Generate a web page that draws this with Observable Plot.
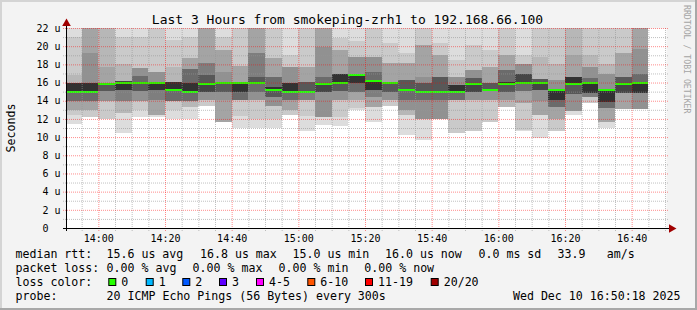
<!DOCTYPE html>
<html><head><meta charset="utf-8">
<script src="https://cdn.jsdelivr.net/npm/d3@7"></script>
<script src="https://cdn.jsdelivr.net/npm/@observablehq/plot@0.6"></script>
<style>
html,body{margin:0;padding:0;background:#f3f3f3;}
</style></head><body><div id="chart"></div>
<script>
// ---- data ----
const day = "2025-12-10";
const windowStart = "13:50:18", windowEnd = "16:50:18";
const binStarts = ["13:50","13:55","14:00","14:05","14:10","14:15","14:20","14:25","14:30","14:35","14:40","14:45","14:50","14:55",
  "15:00","15:05","15:10","15:15","15:20","15:25","15:30","15:35","15:40","15:45","15:50","15:55",
  "16:00","16:05","16:10","16:15","16:20","16:25","16:30","16:35","16:40"];
const medians = [15.0,15.0,15.8,16.0,16.0,16.0,15.2,15.0,15.8,16.0,16.0,16.0,15.2,15.0,15.0,15.8,16.0,16.8,16.2,16.0,
  15.2,15.0,15.0,15.0,15.8,15.2,15.8,16.0,16.0,15.2,15.8,16.0,15.2,15.8,16.0];
// 20 sorted ping round-trip times (us) per 5-minute step
const pings = [
 [11.4,12.4,13.0,13.0,14.0,14.0,14.0,15.0,15.0,15.0,16.0,16.0,16.0,16.0,16.0,16.0,16.0,16.8,21.0,23],
 [12.2,12.2,13.0,13.0,14.0,14.0,14.0,15.0,15.0,15.0,16.0,16.0,16.0,16.0,16.0,19.3,23,23,23,23],
 [12.0,12.0,14.0,14.0,14.0,15.1,15.1,15.1,15.8,15.8,16.0,16.0,16.0,16.0,16.0,16.0,17.7,23,23,23],
 [10.5,12.7,12.7,14.0,14.0,14.0,15.2,15.2,15.2,15.2,16.1,16.2,16.2,16.2,16.2,16.2,16.2,18.0,21.0,23],
 [12.2,13.0,14.0,14.0,14.0,15.1,15.1,15.1,16.0,16.0,16.0,16.0,16.0,16.7,16.7,17.6,17.6,17.6,21.0,23],
 [12.2,12.4,12.4,12.4,14.1,14.1,15.2,15.2,15.2,15.2,16.0,16.0,16.0,16.0,16.0,17.2,17.2,17.2,23,23],
 [12.0,13.0,14.0,14.0,14.0,14.0,14.0,15.2,15.2,15.2,16.1,16.1,16.1,16.1,16.1,16.1,16.1,17.7,20.7,23],
 [12.0,13.3,13.3,14.0,14.0,14.0,14.0,15.0,15.0,15.0,16.0,16.0,16.0,17.5,17.5,17.5,18.7,18.7,21.0,23],
 [13.4,13.4,14.1,14.1,14.1,15.0,15.0,15.0,15.0,15.8,15.9,15.9,16.8,16.8,18.1,18.1,23,23,23,23],
 [11.7,11.7,11.7,11.7,14.1,15.0,15.0,15.0,16.0,16.0,16.0,16.0,16.0,16.0,16.0,17.2,19.6,19.6,21.0,23],
 [11.0,12.3,14.1,14.1,14.1,14.1,14.1,15.0,15.0,15.0,16.0,16.0,16.0,16.0,16.0,16.0,17.8,17.8,23,23],
 [11.0,12.0,14.1,14.1,14.1,15.0,15.0,16.0,16.0,16.0,16.0,16.0,16.65,16.65,19.2,19.2,23,23,23,23],
 [11.0,12.0,13.4,13.4,13.4,14.45,14.45,14.45,15.2,15.2,15.5,15.5,15.5,16.65,16.65,16.65,18.7,18.7,23,23],
 [12.4,12.4,13.0,13.0,14.1,14.1,14.1,15.0,15.0,15.0,16.0,16.0,16.0,16.0,16.0,17.75,17.75,17.75,19.0,23],
 [10.7,12.3,14.1,14.1,14.1,14.1,15.0,15.0,15.0,15.0,15.0,15.0,16.1,16.1,16.1,16.1,17.75,17.75,23,23],
 [11.35,12.25,12.25,12.25,12.25,15.0,15.0,15.0,15.0,15.8,15.9,15.9,15.9,16.65,16.65,19.95,23,23,23,23],
 [11.2,12.2,14.1,14.1,14.1,15.1,15.1,15.1,16.0,16.0,16.9,16.9,16.9,16.9,16.9,16.9,19.6,19.6,20.9,23],
 [13.0,13.2,14.1,14.1,15.0,15.0,15.0,15.9,15.9,15.9,16.8,16.8,16.8,16.8,16.8,18.85,18.85,18.85,20.6,23],
 [11.7,13.35,13.35,13.35,14.45,14.45,15.2,15.2,15.2,15.2,16.2,16.2,16.2,17.2,17.2,18.85,18.85,18.85,23,23],
 [13.4,13.4,14.1,14.1,14.1,15.0,15.0,15.0,16.0,16.0,16.0,16.0,16.0,16.0,16.0,16.0,18.1,18.1,20.3,23],
 [10.2,12.4,12.4,13.0,13.0,14.1,14.1,15.2,15.2,15.2,15.2,15.2,16.3,16.3,16.3,16.3,18.1,18.1,19.2,23],
 [9.7,12.0,12.0,12.0,12.0,14.1,14.1,15.0,15.0,15.0,15.0,15.0,15.9,15.9,15.9,16.65,20.1,20.1,23,23],
 [12.0,12.0,12.0,12.0,12.0,14.1,14.1,15.0,15.0,15.0,15.0,15.0,16.65,16.65,16.65,16.65,19.0,19.0,20.3,23],
 [10.5,10.5,14.1,14.1,14.1,14.1,14.1,15.0,15.0,15.0,15.7,15.7,15.7,15.7,15.7,16.65,16.65,16.65,18.5,23],
 [10.7,10.7,14.1,14.1,14.1,15.0,15.0,15.0,15.0,15.8,15.8,15.8,16.5,16.5,16.5,17.4,17.4,17.4,20.1,23],
 [11.7,11.7,14.1,14.1,14.1,15.2,15.2,15.2,15.2,15.2,15.2,15.2,15.9,15.9,15.9,15.9,17.75,17.75,19.6,23],
 [13.35,13.35,13.35,14.1,14.1,15.0,15.0,15.0,15.8,15.8,16.1,16.1,16.1,17.4,17.4,17.4,19.0,19.0,23,23],
 [10.7,10.8,13.8,13.8,15.1,15.1,15.1,16.0,16.0,16.0,16.0,16.9,16.9,16.9,16.9,18.0,18.0,18.0,19.0,23],
 [9.9,12.4,12.4,12.4,14.0,15.2,15.2,15.2,15.2,16.0,16.0,16.0,16.4,16.4,16.4,16.4,16.4,18.8,23,23],
 [10.7,10.7,12.0,12.0,13.35,13.35,13.35,14.1,14.1,14.1,15.2,15.2,15.2,15.2,15.2,16.3,16.3,18.0,23,23],
 [12.4,12.9,12.9,12.9,12.9,14.7,14.7,14.7,15.8,15.8,16.6,16.6,16.6,16.6,16.6,16.6,19.0,23,23,23],
 [13.7,13.7,14.4,14.4,14.4,14.4,14.9,14.9,14.9,14.9,16.0,16.0,16.0,16.5,16.5,17.7,17.7,19.0,23,23],
 [11.0,11.7,11.7,11.7,13.2,13.2,13.2,13.9,13.9,13.9,15.2,15.2,15.2,15.2,15.2,16.9,16.9,18.0,23,23],
 [13.1,13.1,13.1,13.1,14.9,14.9,14.9,14.9,14.9,15.8,15.8,15.8,16.6,16.6,16.6,16.6,19.3,19.3,23,23],
 [13.1,13.1,13.1,13.1,13.1,14.9,14.9,14.9,14.9,14.9,16.0,16.0,16.0,16.9,16.9,19.7,23,23,23,23]
];
const yTicks = [0,2,4,6,8,10,12,14,16,18,20,22];
const yTickLabels = ["0\u00a0\u00a0","2\u00a0u","4\u00a0u","6\u00a0u","8\u00a0u","10\u00a0u","12\u00a0u","14\u00a0u","16\u00a0u","18\u00a0u","20\u00a0u","22\u00a0u"];
const xTickLabels = ["14:00","14:20","14:40","15:00","15:20","15:40","16:00","16:20","16:40"];
const title = "Last 3 Hours from smokeping-zrh1 to 192.168.66.100";
const legendRows = [
  [["median rtt:",15.5],["15.6 us avg",106.5],["16.8 us max",200],["15.0 us min",292.5],["16.0 us now",385],["0.0 ms sd",478.5],["33.9",557.5],["am/s",606.8]],
  [["packet loss:",15.5],["0.00 % avg",106.6],["0.00 % max",192.6],["0.00 % min",278.6],["0.00 % now",364.3]],
  [["loss color:",15.5]],
  [["probe:",15.5],["20 ICMP Echo Pings (56 Bytes) every 300s",106.6]]
];
const lossLabels = ["0","1","2","3","4-5","6-10","11-19","20/20"];
const lossColors = ["#26ff00","#00b8ff","#0059ff","#5e00ff","#ff00ff","#ff5500","#ff0000","#a00000"];
const lossBoxX = [108.3,145.7,182.3,219,256,307.3,365,430.7];
const stamp = "Wed Dec 10 16:50:18 2025";
const smokeGrays = ["#dddddd","#cacaca","#b7b7b7","#a4a4a4","#919191","#7e7e7e","#6b6b6b","#585858","#454545","#323232"];

// ---- build ----
const T = s => new Date(`${day}T${s.length === 5 ? s + ":00" : s}Z`);
const x0 = T(windowStart), xEnd = T(windowEnd);
const bins = binStarts.map(T);
const step = 5 * 60 * 1000;
const smoke = [];
for (let L = 1; L <= 10; L++) {
  bins.forEach((t, i) => {
    const p = pings[i];
    if (p[20 - L] > p[L - 1]) smoke.push({t0: t, t1: new Date(+t + step), lo: p[L - 1], hi: p[20 - L], fill: smokeGrays[L - 1]});
  });
}
const med = bins.map((t, i) => ({t0: t, t1: new Date(+t + step), m: medians[i]}));
const majorX = xTickLabels.map(T);
const allX = d3.utcMinute.every(5).range(new Date(+x0 + 1), xEnd);
const minorX = allX.filter(d => !majorX.some(m => +m === +d));
const minorY = d3.range(1, 22, 2);
const mono = "DejaVu Sans Mono";
const minorGrid = {stroke: "rgb(150,150,150)", strokeOpacity: 0.6, strokeDasharray: "1,1"};
const majorGrid = {stroke: "rgb(255,0,0)", strokeOpacity: 0.45, strokeDasharray: "1,1"};

const chart = Plot.plot({
  width: 697, height: 310,
  marginLeft: 66, marginRight: 31, marginTop: 28, marginBottom: 82,
  x: {type: "utc", domain: [x0, xEnd], label: null},
  y: {domain: [0, 22], label: null},
  color: {type: "identity"},
  style: {background: "#f3f3f3", fontFamily: mono, fontSize: "10px", color: "black", overflow: "visible"},
  marks: [
    Plot.frame({fill: "white", stroke: null}),
    Plot.rect(smoke, {x1: "t0", x2: "t1", y1: "lo", y2: "hi", fill: "fill", clip: true, shapeRendering: "crispEdges"}),
    Plot.rect(med, {x1: "t0", x2: "t1", y1: d => d.m - 0.11, y2: d => d.m + 0.11, fill: lossColors[0], clip: true, shapeRendering: "crispEdges"}),
    Plot.ruleY(minorY, {...minorGrid, insetLeft: -3, insetRight: -2}),
    Plot.ruleX(minorX, {...minorGrid, insetBottom: -3}),
    Plot.ruleY(yTicks.filter(v => v > 0), {...majorGrid, insetLeft: -3, insetRight: -2}),
    Plot.ruleX(majorX, {...majorGrid, insetBottom: -3}),
    Plot.ruleY([0], {stroke: "black", insetLeft: -3, insetRight: -4}),
    Plot.ruleX([x0], {stroke: "black", insetTop: -3, insetBottom: -3}),
    Plot.dot([[xEnd, 0]], {x: d => d[0], y: d => d[1], symbol: "triangle", rotate: 90, r: 3.2, fill: "#a00000", stroke: null, dx: 5}),
    Plot.dot([[x0, 22]], {x: d => d[0], y: d => d[1], symbol: "triangle", r: 3.2, fill: "#a00000", stroke: null, dy: -5}),
    Plot.axisX(majorX, {tickSize: 0, tickPadding: 6, tickFormat: (d, i) => xTickLabels[i], fontSize: 10, fill: "black", label: null}),
    Plot.axisY(yTicks, {tickSize: 0, tickPadding: 6, tickFormat: (d, i) => yTickLabels[i], fontSize: 10, fill: "black", label: null})
  ]
});
document.getElementById("chart").appendChild(chart);

const svg = d3.select(chart);
const font = (sel, size) => sel.attr("font-family", mono).attr("font-size", size).attr("fill", "black")
  .attr("text-anchor", "start").style("white-space", "pre");
// border
svg.append("rect").attr("x", 0).attr("y", 0).attr("width", 697).attr("height", 2).attr("fill", "#d4d4d4");
svg.append("rect").attr("x", 0).attr("y", 0).attr("width", 2).attr("height", 310).attr("fill", "#d4d4d4");
svg.append("rect").attr("x", 695).attr("y", 0).attr("width", 2).attr("height", 310).attr("fill", "#a8a8a8");
svg.append("rect").attr("x", 0).attr("y", 308).attr("width", 697).attr("height", 2).attr("fill", "#a8a8a8");
// title
font(svg.append("text"), "13px").attr("x", 347.5).attr("y", 23.5).attr("text-anchor", "middle").text(title);
// y label
font(svg.append("text"), "11.6px").attr("transform", "translate(15,128) rotate(-90)").attr("text-anchor", "middle").text("Seconds");
// watermark
font(svg.append("text"), "8.2px").attr("fill", "#a4a4a4").attr("transform", "translate(684,5) rotate(90)").text("RRDTOOL / TOBI OETIKER");
// legend
const baselines = [258, 272, 286, 300];
legendRows.forEach((row, r) => row.forEach(([s, x]) => font(svg.append("text"), "11.6px").attr("x", x).attr("y", baselines[r]).text(s)));
lossLabels.forEach((lab, i) => {
  svg.append("rect").attr("x", lossBoxX[i] + 0.5).attr("y", 278.5).attr("width", 7).attr("height", 7)
    .attr("fill", lossColors[i]).attr("stroke", "black").attr("stroke-width", 1);
  font(svg.append("text"), "11.6px").attr("x", lossBoxX[i] + 13).attr("y", 286).text(lab);
});
font(svg.append("text"), "11.6px").attr("x", 680.5).attr("y", 300).attr("text-anchor", "end").text(stamp);
</script></body></html>
